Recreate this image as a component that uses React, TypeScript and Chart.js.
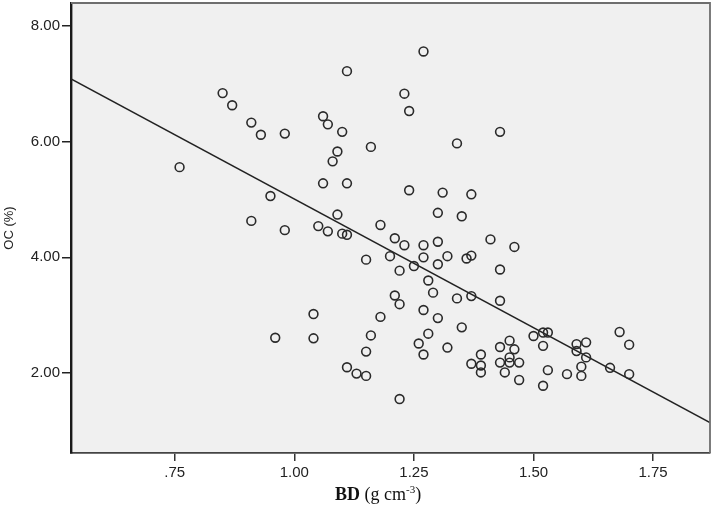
import React, { useEffect, useRef } from 'react';
import { Chart, registerables } from 'chart.js';

Chart.register(...registerables);

// Bulk density (g cm-3)
const BD = [
  0.76, 0.85, 0.87, 0.91, 0.93, 0.98, 0.95, 0.91, 0.98, 1.06,
  1.07, 1.10, 1.11, 1.09, 1.08, 1.06, 1.11, 1.09, 1.05, 1.07,
  1.10, 1.11, 0.96, 1.04, 1.04, 1.11, 1.13, 1.27, 1.23, 1.24,
  1.43, 1.34, 1.16, 1.24, 1.31, 1.37, 1.30, 1.35, 1.18, 1.21,
  1.23, 1.27, 1.30, 1.41, 1.46, 1.15, 1.20, 1.22, 1.25, 1.27,
  1.30, 1.32, 1.36, 1.37, 1.43, 1.28, 1.29, 1.21, 1.22, 1.34,
  1.37, 1.43, 1.18, 1.27, 1.30, 1.16, 1.28, 1.35, 1.15, 1.26,
  1.27, 1.32, 1.15, 1.22, 1.37, 1.39, 1.39, 1.39, 1.43, 1.43,
  1.45, 1.46, 1.45, 1.45, 1.47, 1.44, 1.47, 1.50, 1.52, 1.53,
  1.52, 1.53, 1.52, 1.57, 1.59, 1.59, 1.61, 1.61, 1.60, 1.60,
  1.66, 1.68, 1.70, 1.70,
];

// Organic carbon (%)
const OC = [
  5.56, 6.84, 6.63, 6.33, 6.12, 6.14, 5.06, 4.63, 4.47, 6.44,
  6.30, 6.17, 7.22, 5.83, 5.66, 5.28, 5.28, 4.74, 4.54, 4.45,
  4.41, 4.39, 2.61, 3.02, 2.60, 2.10, 1.99, 7.56, 6.83, 6.53,
  6.17, 5.97, 5.91, 5.16, 5.12, 5.09, 4.77, 4.71, 4.56, 4.33,
  4.21, 4.21, 4.27, 4.31, 4.18, 3.96, 4.02, 3.77, 3.85, 4.00,
  3.88, 4.02, 3.98, 4.03, 3.79, 3.60, 3.39, 3.34, 3.19, 3.29,
  3.33, 3.25, 2.97, 3.09, 2.95, 2.65, 2.68, 2.79, 2.37, 2.51,
  2.32, 2.44, 1.95, 1.55, 2.16, 2.32, 2.13, 2.01, 2.45, 2.18,
  2.56, 2.41, 2.27, 2.18, 2.18, 2.01, 1.88, 2.64, 2.70, 2.70,
  2.47, 2.05, 1.78, 1.98, 2.50, 2.38, 2.53, 2.27, 2.11, 1.95,
  2.09, 2.71, 2.49, 1.98,
];

const X_TICKS = [0.75, 1.0, 1.25, 1.5, 1.75];
const X_TICK_LABELS = ['.75', '1.00', '1.25', '1.50', '1.75'];
const Y_TICKS = [2, 4, 6, 8];
const Y_TICK_LABELS = ['2.00', '4.00', '6.00', '8.00'];
const X_RANGE = [0.533, 1.869];
const Y_RANGE = [0.617, 8.398];

// Fitted linear regression line
const FIT_INTERCEPT = 9.457;
const FIT_SLOPE = -4.448;

const Y_TITLE = 'OC (%)';
const X_TITLE_BOLD = 'BD';
const X_TITLE_REST = ' (g cm';
const X_TITLE_SUP = '-3';
const X_TITLE_END = ')';

const plotBackground = {
  id: 'plotBackground',
  beforeDraw(chart: any) {
    const { ctx, chartArea } = chart;
    ctx.save();
    ctx.fillStyle = '#f0f0f0';
    ctx.fillRect(chartArea.left, chartArea.top, chartArea.right - chartArea.left, chartArea.bottom - chartArea.top);
    ctx.restore();
  },
  afterDraw(chart: any) {
    const { ctx, chartArea } = chart;
    ctx.save();
    ctx.strokeStyle = '#6e6e6e';
    ctx.lineWidth = 1.8;
    ctx.beginPath();
    ctx.moveTo(chartArea.left, chartArea.top);
    ctx.lineTo(chartArea.right, chartArea.top);
    ctx.lineTo(chartArea.right, chartArea.bottom);
    ctx.stroke();
    ctx.restore();
  },
};

const zeroPadding = (scale: any) => {
  scale.paddingTop = 0;
  scale.paddingBottom = 0;
  scale.paddingLeft = 0;
  scale.paddingRight = 0;
};

export default function App() {
  const canvasRef = useRef<HTMLCanvasElement | null>(null);

  useEffect(() => {
    if (!canvasRef.current) return;
    const points = BD.map((x, i) => ({ x, y: OC[i] }));
    const fitLine = [X_RANGE[0], X_RANGE[1]].map((x) => ({ x, y: FIT_INTERCEPT + FIT_SLOPE * x }));

    const chart = new Chart(canvasRef.current, {
      type: 'scatter',
      data: {
        datasets: [
          {
            type: 'line',
            label: 'Fit',
            data: fitLine,
            showLine: true,
            borderColor: '#222222',
            borderWidth: 1.6,
            pointRadius: 0,
            fill: false,
            order: 2,
          } as any,
          {
            label: 'OC',
            data: points,
            pointStyle: 'circle',
            pointRadius: 4.4,
            pointBorderWidth: 1.6,
            borderColor: '#2a2a2a',
            backgroundColor: 'rgba(0,0,0,0)',
            pointBackgroundColor: 'rgba(0,0,0,0)',
            pointBorderColor: '#2a2a2a',
            order: 1,
          } as any,
        ],
      },
      options: {
        responsive: false,
        animation: false,
        devicePixelRatio: 1,
        layout: { autoPadding: false, padding: { left: 0, top: 3, right: 4, bottom: 0 } },
        plugins: {
          legend: { display: false },
          tooltip: { enabled: false },
        },
        scales: {
          x: {
            type: 'linear',
            min: X_RANGE[0],
            max: X_RANGE[1],
            afterBuildTicks: (scale: any) => {
              scale.ticks = X_TICKS.map((v) => ({ value: v }));
            },
            afterFit: (scale: any) => {
              scale.height = 55;
              zeroPadding(scale);
            },
            ticks: {
              callback: (value: any) => {
                const i = X_TICKS.indexOf(Number(value));
                return i >= 0 ? X_TICK_LABELS[i] : '';
              },
              color: '#222222',
              font: { family: '"Liberation Sans", Arial, sans-serif', size: 15 },
              padding: 3,
              maxRotation: 0,
              autoSkip: false,
            },
            grid: {
              display: true,
              drawOnChartArea: false,
              drawTicks: true,
              tickLength: 8,
              color: '#333333',
              lineWidth: 1.5,
            },
            border: { display: true, color: '#444444', width: 1.8 },
            title: { display: false },
          },
          y: {
            type: 'linear',
            min: Y_RANGE[0],
            max: Y_RANGE[1],
            afterBuildTicks: (scale: any) => {
              scale.ticks = Y_TICKS.map((v) => ({ value: v }));
            },
            afterFit: (scale: any) => {
              scale.width = 71;
              zeroPadding(scale);
            },
            ticks: {
              callback: (value: any) => {
                const i = Y_TICKS.indexOf(Number(value));
                return i >= 0 ? Y_TICK_LABELS[i] : '';
              },
              color: '#222222',
              font: { family: '"Liberation Sans", Arial, sans-serif', size: 15 },
              padding: 2,
              autoSkip: false,
            },
            grid: {
              display: true,
              drawOnChartArea: false,
              drawTicks: true,
              tickLength: 9,
              color: '#222222',
              lineWidth: 1.5,
            },
            border: { display: true, color: '#1a1a1a', width: 2.4 },
            title: {
              display: true,
              text: Y_TITLE,
              color: '#222222',
              font: { family: '"Liberation Sans", Arial, sans-serif', size: 13 },
              padding: { top: 2, bottom: 0 },
            },
          },
        },
      },
      plugins: [plotBackground],
    });

    return () => {
      chart.destroy();
    };
  }, []);

  return (
    <div style={{ position: 'absolute', left: 0, top: 0, width: 714, height: 508, background: '#ffffff' }}>
      <canvas ref={canvasRef} width={714} height={508} style={{ display: 'block' }} />
      <div
        style={{
          position: 'absolute',
          left: 335,
          top: 485,
          fontFamily: '"Liberation Serif", "Times New Roman", serif',
          fontSize: 18,
          lineHeight: '18px',
          color: '#111111',
          whiteSpace: 'nowrap',
        }}
      >
        <span style={{ fontWeight: 'bold' }}>{X_TITLE_BOLD}</span>
        <span>{X_TITLE_REST}</span>
        <span style={{ fontSize: 11, position: 'relative', top: -7 }}>{X_TITLE_SUP}</span>
        <span>{X_TITLE_END}</span>
      </div>
    </div>
  );
}
